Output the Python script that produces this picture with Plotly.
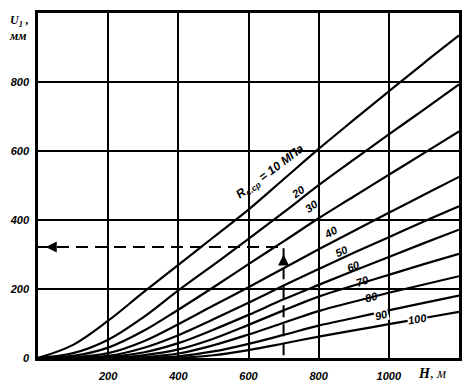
import plotly.graph_objects as go

# ---- data ----
H = [0, 100, 200, 300, 400, 500, 600, 700, 800, 900, 1000, 1100, 1200]
U_R10 = [0, 38, 108, 190, 270, 350, 430, 518, 606, 690, 773, 855, 935]
U_R20 = [0, 14, 53, 118, 196, 270, 345, 422, 501, 575, 648, 720, 793]
U_R30 = [0, 6, 30, 78, 140, 205, 272, 338, 405, 468, 531, 594, 657]
U_R40 = [0, 2, 14, 48, 98, 152, 205, 260, 315, 368, 421, 473, 525]
U_R50 = [0, 1, 6, 29, 66, 112, 160, 210, 258, 305, 350, 396, 440]
U_R60 = [0, 0, 3, 16, 43, 82, 125, 170, 212, 253, 293, 333, 372]
U_R70 = [0, 0, 1, 8, 25, 56, 96, 138, 178, 210, 241, 272, 302]
U_R80 = [0, 0, 0, 3, 13, 37, 68, 102, 136, 163, 189, 213, 237]
U_R90 = [0, 0, 0, 1, 5, 19, 41, 67, 94, 116, 138, 160, 181]
U_R100 = [0, 0, 0, 0, 1, 8, 23, 42, 62, 80, 98, 116, 134]
CURVES = [U_R10, U_R20, U_R30, U_R40, U_R50, U_R60, U_R70, U_R80, U_R90, U_R100]

CURVE_LABELS = ["R<sub>с.ср</sub> = 10 МПа", "20", "30", "40", "50", "60", "70", "80", "90", "100"]
LABEL_H = [664, 740, 780, 835, 866, 900, 925, 950, 979, 1082]
LABEL_U = [538, 482, 440, 364, 311, 266, 224, 177, 124, 113]
LABEL_ANGLE = [-37, -35, -35, -30, -25, -22, -20, -15, -15, -10]

GUIDE_H = [0, 700, 700]
GUIDE_U = [322, 322, 0]
ARROW_H = [22, 700]
ARROW_U = [322, 300]
ARROW_SYMBOL = ["arrow-left", "arrow-up"]

X_TICKS = [200, 400, 600, 800, 1000]
Y_TICKS = [0, 200, 400, 600, 800]

fig = go.Figure()

for vals in CURVES:
    fig.add_trace(go.Scatter(
        x=H, y=vals, mode="lines",
        line=dict(color="black", width=2.2, shape="spline", smoothing=1.0),
        hoverinfo="skip", showlegend=False))

fig.add_trace(go.Scatter(
    x=GUIDE_H, y=GUIDE_U, mode="lines",
    line=dict(color="black", width=2, dash="12px,7px"),
    hoverinfo="skip", showlegend=False))

fig.add_trace(go.Scatter(
    x=ARROW_H, y=ARROW_U, mode="markers",
    marker=dict(symbol=ARROW_SYMBOL, size=11, color="black", line=dict(width=0)),
    hoverinfo="skip", showlegend=False))

for i, (t, hx, uy, ang) in enumerate(zip(CURVE_LABELS, LABEL_H, LABEL_U, LABEL_ANGLE)):
    fig.add_annotation(
        x=hx, y=uy, text=t, showarrow=False, textangle=ang,
        font=dict(family="Liberation Sans", size=12 if i == 0 else 11, color="black",
                  weight="bold", style="italic"),
        bgcolor="white" if i >= 8 else "rgba(0,0,0,0)", borderpad=0)

# axis titles
fig.add_annotation(xref="paper", yref="paper", x=-0.073, y=1.005, xanchor="left", yanchor="top",
                   text="<i><b>U<sub>1</sub> ,</b></i><br><i><b>мм</b></i>", showarrow=False, align="left",
                   font=dict(family="Liberation Serif", size=12, color="black"))
fig.add_annotation(xref="paper", yref="paper", x=0.935, y=-0.045, xanchor="center", yanchor="middle",
                   text="<b><i>H</i></b><i>, м</i>", showarrow=False,
                   font=dict(family="Liberation Serif", size=14, color="black"))

tick_font = dict(family="Liberation Sans", size=11, color="black", weight="bold", style="italic")

fig.update_xaxes(range=[0, 1200], tickvals=X_TICKS, ticktext=[str(v) for v in X_TICKS],
                 showgrid=True, gridcolor="black", gridwidth=2, zeroline=False,
                 showline=True, linecolor="black", linewidth=2.5, mirror=True,
                 ticks="", tickfont=tick_font, fixedrange=True, ticklabelstandoff=6)
fig.update_yaxes(range=[0, 1000], tickvals=Y_TICKS, ticktext=[str(v) for v in Y_TICKS],
                 showgrid=True, gridcolor="black", gridwidth=1.5, zeroline=False,
                 showline=True, linecolor="black", linewidth=2.5, mirror=True,
                 ticks="", tickfont=tick_font, fixedrange=True, ticklabelstandoff=4)

fig.update_layout(width=472, height=392, margin=dict(l=34, r=10, t=10, b=24),
                  paper_bgcolor="white", plot_bgcolor="white", showlegend=False)

fig.write_html("out.html", config={"displayModeBar": False})
